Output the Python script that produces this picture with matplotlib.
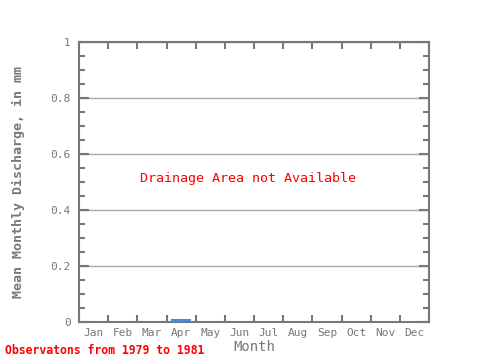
import numpy as np
import matplotlib.pyplot as plt
from matplotlib.ticker import MultipleLocator

months = ['Jan', 'Feb', 'Mar', 'Apr', 'May', 'Jun', 'Jul', 'Aug', 'Sep', 'Oct', 'Nov', 'Dec']
discharge = [0, 0, 0, 0.01, 0, 0, 0, 0, 0, 0, 0, 0]

gray = '#777777'
plt.rcParams['font.family'] = 'DejaVu Sans Mono'

fig = plt.figure(figsize=(4.8, 3.6), dpi=100)
ax = fig.add_axes([0.1646, 0.1056, 0.7292, 0.7778])

x = np.arange(len(months)) + 0.5
ax.bar(x, discharge, width=0.69, color='#3a8ee6', zorder=3)

ax.set_xlim(0, 12)
ax.set_ylim(0, 1)
ax.set_xticks(np.arange(13))
ax.set_xticklabels([])
ax.set_xticks(x, minor=True)
ax.set_xticklabels(months, minor=True)
ax.tick_params(axis='x', which='minor', length=0, pad=4.5, labelsize=8, colors=gray)
ax.tick_params(axis='x', which='major', direction='in', length=5, width=1.5,
               top=True, color=gray)

ax.yaxis.set_major_locator(MultipleLocator(0.2))
ax.yaxis.set_minor_locator(MultipleLocator(0.05))
ax.set_yticks([0, 0.2, 0.4, 0.6, 0.8, 1])
ax.set_yticklabels(['0', '0.2', '0.4', '0.6', '0.8', '1'])
ax.tick_params(axis='y', which='major', direction='in', length=7, width=1.5,
               right=True, color=gray, labelcolor=gray, labelsize=8, pad=6)
ax.tick_params(axis='y', which='minor', direction='in', length=4, width=1.5,
               right=True, color=gray)
ax.grid(axis='y', which='major', color='#aaaaaa', linewidth=1, zorder=0)

for s in ax.spines.values():
    s.set_color(gray)
    s.set_linewidth(1.5)

ax.set_ylabel('Mean Monthly Discharge, in mm', color=gray, fontsize=9.6,
              fontweight='bold', labelpad=18)
ax.set_xlabel('Month', color=gray, fontsize=10, labelpad=1)

ax.text(5.8, 0.514, 'Drainage Area not Available', color='red', fontsize=9.6,
        ha='center', va='center')
fig.text(0.01, 0.008, 'Observatons from 1979 to 1981', color='red', fontsize=8.3,
         fontweight='bold', ha='left', va='bottom')

fig.savefig('out.png', dpi=100)
